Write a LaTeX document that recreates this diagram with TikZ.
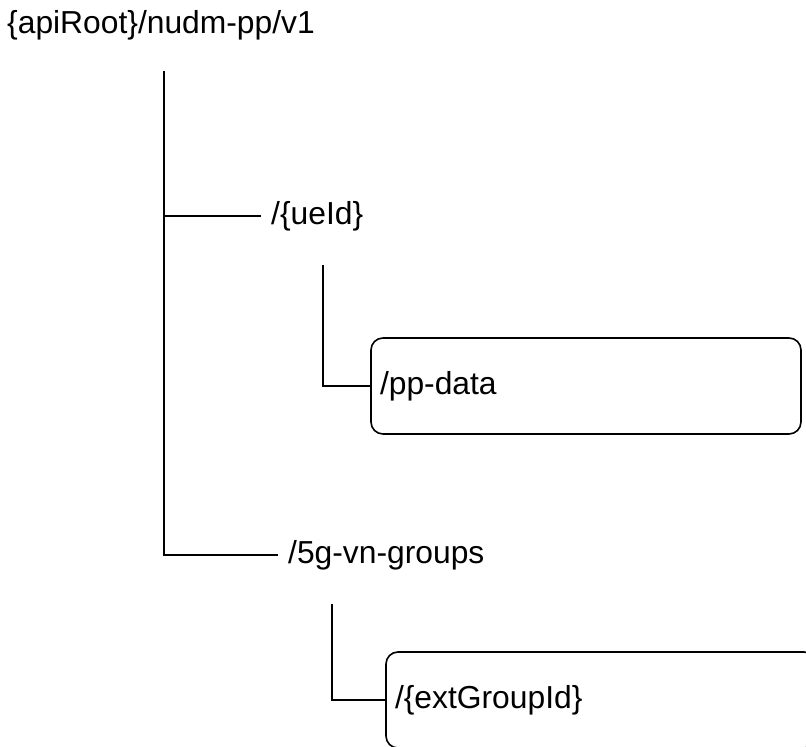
\documentclass[tikz,border=0pt]{standalone}
\usepackage{fontspec}
\setmainfont{Liberation Sans}
\begin{document}
\begin{tikzpicture}[x=1pt,y=-1pt,
  every node/.style={font=\fontsize{31.8}{38}\selectfont},
  lbl/.style={anchor=west,inner xsep=10pt,inner ysep=0pt},
  resbox/.style={draw,line width=1.6pt,rounded corners=12pt,minimum width=430pt,minimum height=96pt,
    text width=412pt,inner xsep=9pt,align=left},
  conn/.style={line width=1.6pt}]
\useasboundingbox (0,0) rectangle (806,747);
\clip (0,0) rectangle (806,747);
\node[lbl,inner xsep=0pt] (root) at (7,25) {\{apiRoot\}/nudm-pp/v1};
\coordinate (trunktop) at (164,71);
\node[lbl] (ueid) at (261,216) {/\{ueId\}};
\node[lbl] (groups) at (278,555) {/5g-vn-groups};
\coordinate (subatop) at (323,265);
\node[resbox] (ppdata) at (586,386) {/pp-data};
\coordinate (subbtop) at (332,604);
\node[resbox] (extgroup) at (601,700) {/\{extGroupId\}};
\draw[conn] (trunktop) |- (groups.west);
\draw[conn] (trunktop |- ueid.west) -- (ueid.west);
\draw[conn] (subatop) |- (ppdata.west);
\draw[conn] (subbtop) |- (extgroup.west);
\end{tikzpicture}
\end{document}
